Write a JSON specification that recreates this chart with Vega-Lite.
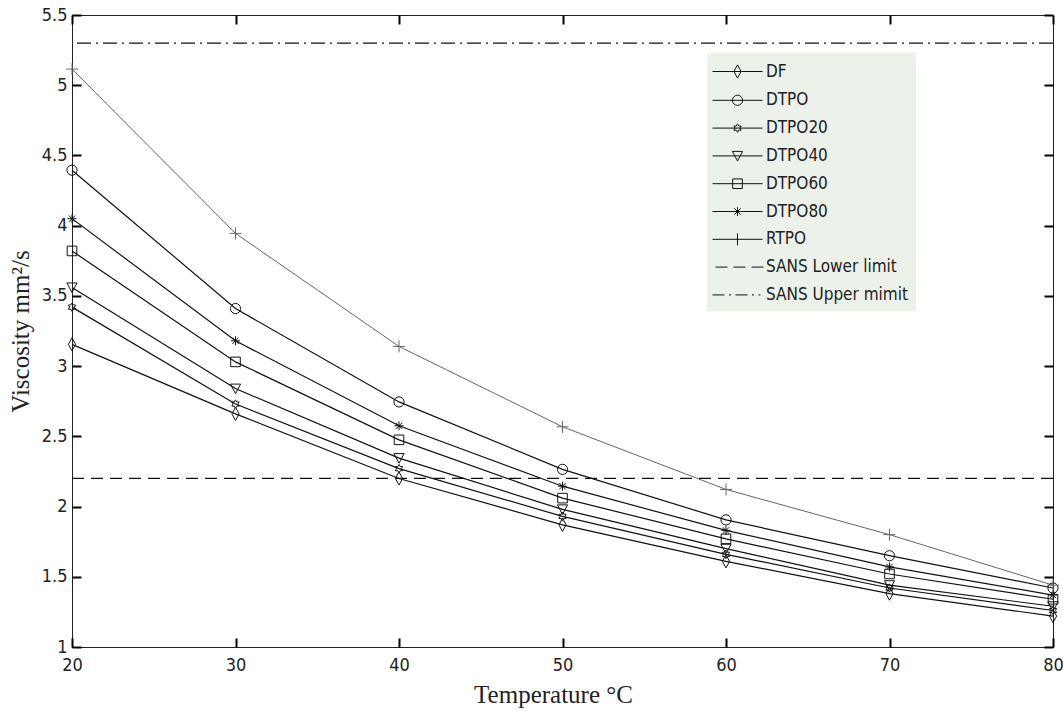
{
  "$schema": "https://vega.github.io/schema/vega-lite/v6.json",
  "width": 981,
  "height": 632,
  "autosize": "none",
  "padding": {"left": 72, "top": 15, "right": 10, "bottom": 67},
  "background": "white",
  "config": {
    "view": {"stroke": "#222", "strokeWidth": 1},
    "axis": {
      "domain": false,
      "grid": false,
      "ticks": true,
      "zindex": 1,
      "tickColor": "#000",
      "tickWidth": 2,
      "tickSize": 9,
      "offset": -9,
      "labelFlush": false,
      "labelFont": "Liberation Sans Narrow, DejaVu Sans Condensed, Liberation Sans",
      "labelFontSize": 18,
      "labelColor": "#222",
      "titleFont": "Liberation Serif",
      "titleFontSize": 25,
      "titleFontWeight": "normal",
      "titleColor": "#222"
    }
  },
  "datasets": {
    "series": [
      {"series": "DF", "temp": 20, "visc": 3.155},
      {"series": "DF", "temp": 30, "visc": 2.66},
      {"series": "DF", "temp": 40, "visc": 2.2},
      {"series": "DF", "temp": 50, "visc": 1.87},
      {"series": "DF", "temp": 60, "visc": 1.61},
      {"series": "DF", "temp": 70, "visc": 1.38},
      {"series": "DF", "temp": 80, "visc": 1.22},
      {"series": "DTPO", "temp": 20, "visc": 4.395},
      {"series": "DTPO", "temp": 30, "visc": 3.41},
      {"series": "DTPO", "temp": 40, "visc": 2.745},
      {"series": "DTPO", "temp": 50, "visc": 2.265},
      {"series": "DTPO", "temp": 60, "visc": 1.905},
      {"series": "DTPO", "temp": 70, "visc": 1.65},
      {"series": "DTPO", "temp": 80, "visc": 1.42},
      {"series": "DTPO20", "temp": 20, "visc": 3.42},
      {"series": "DTPO20", "temp": 30, "visc": 2.73},
      {"series": "DTPO20", "temp": 40, "visc": 2.27},
      {"series": "DTPO20", "temp": 50, "visc": 1.93},
      {"series": "DTPO20", "temp": 60, "visc": 1.66},
      {"series": "DTPO20", "temp": 70, "visc": 1.42},
      {"series": "DTPO20", "temp": 80, "visc": 1.26},
      {"series": "DTPO40", "temp": 20, "visc": 3.56},
      {"series": "DTPO40", "temp": 30, "visc": 2.84},
      {"series": "DTPO40", "temp": 40, "visc": 2.345},
      {"series": "DTPO40", "temp": 50, "visc": 1.98},
      {"series": "DTPO40", "temp": 60, "visc": 1.7},
      {"series": "DTPO40", "temp": 70, "visc": 1.44},
      {"series": "DTPO40", "temp": 80, "visc": 1.29},
      {"series": "DTPO60", "temp": 20, "visc": 3.82},
      {"series": "DTPO60", "temp": 30, "visc": 3.03},
      {"series": "DTPO60", "temp": 40, "visc": 2.475},
      {"series": "DTPO60", "temp": 50, "visc": 2.06},
      {"series": "DTPO60", "temp": 60, "visc": 1.77},
      {"series": "DTPO60", "temp": 70, "visc": 1.52},
      {"series": "DTPO60", "temp": 80, "visc": 1.34},
      {"series": "DTPO80", "temp": 20, "visc": 4.05},
      {"series": "DTPO80", "temp": 30, "visc": 3.18},
      {"series": "DTPO80", "temp": 40, "visc": 2.575},
      {"series": "DTPO80", "temp": 50, "visc": 2.145},
      {"series": "DTPO80", "temp": 60, "visc": 1.83},
      {"series": "DTPO80", "temp": 70, "visc": 1.57},
      {"series": "DTPO80", "temp": 80, "visc": 1.37},
      {"series": "RTPO", "temp": 20, "visc": 5.115},
      {"series": "RTPO", "temp": 30, "visc": 3.945},
      {"series": "RTPO", "temp": 40, "visc": 3.14},
      {"series": "RTPO", "temp": 50, "visc": 2.568},
      {"series": "RTPO", "temp": 60, "visc": 2.122},
      {"series": "RTPO", "temp": 70, "visc": 1.8},
      {"series": "RTPO", "temp": 80, "visc": 1.44}
    ],
    "limits": [
      {"limit": "SANS Lower limit", "visc": 2.2},
      {"limit": "SANS Upper mimit", "visc": 5.3}
    ],
    "legend": [
      {"entry": "DF", "temp": 50, "visc": 3},
      {"entry": "DTPO", "temp": 50, "visc": 3},
      {"entry": "DTPO20", "temp": 50, "visc": 3},
      {"entry": "DTPO40", "temp": 50, "visc": 3},
      {"entry": "DTPO60", "temp": 50, "visc": 3},
      {"entry": "DTPO80", "temp": 50, "visc": 3},
      {"entry": "RTPO", "temp": 50, "visc": 3},
      {"entry": "SANS Lower limit", "temp": 50, "visc": 3},
      {"entry": "SANS Upper mimit", "temp": 50, "visc": 3}
    ]
  },
  "resolve": {"axis": {"x": "independent", "y": "independent"}, "scale": {"shape": "independent"}},
  "layer": [
    {
      "data": {"name": "series"},
      "transform": [{"filter": "datum.series !== 'RTPO'"}],
      "mark": {"type": "line", "color": "#111", "strokeWidth": 1.2},
      "encoding": {
        "x": {"field": "temp", "type": "quantitative", "scale": {"domain": [20, 80], "nice": false, "zero": false},
              "axis": {"orient": "bottom", "values": [20, 30, 40, 50, 60, 70, 80], "labelPadding": 9, "title": "Temperature °C", "titlePadding": 8, "titleX": 481, "ticks": true, "tickColor": "#000", "tickWidth": 2}},
        "y": {"field": "visc", "type": "quantitative", "scale": {"domain": [1, 5.5], "nice": false, "zero": false},
              "axis": {"orient": "left", "values": [1, 1.5, 2, 2.5, 3, 3.5, 4, 4.5, 5, 5.5], "format": ".1~f", "labelPadding": 5, "title": "Viscosity mm²/s", "titlePadding": 8, "ticks": true, "tickColor": "#000", "tickWidth": 2}},
        "detail": {"field": "series"}
      }
    },
    {
      "data": {"name": "series"},
      "transform": [{"filter": "datum.series === 'RTPO'"}],
      "mark": {"type": "line", "color": "#666", "strokeWidth": 1},
      "encoding": {
        "x": {"field": "temp", "type": "quantitative", "scale": {"domain": [20, 80], "nice": false, "zero": false}, "axis": null},
        "y": {"field": "visc", "type": "quantitative", "scale": {"domain": [1, 5.5], "nice": false, "zero": false}, "axis": null}
      }
    },
    {
      "data": {"name": "limits"},
      "mark": {"type": "rule", "color": "#111", "strokeWidth": 1.3},
      "encoding": {
        "y": {"field": "visc", "type": "quantitative", "scale": {"domain": [1, 5.5], "nice": false, "zero": false}, "axis": null},
        "strokeDash": {"field": "limit", "type": "nominal", "scale": {"domain": ["SANS Lower limit", "SANS Upper mimit"], "range": [[12, 7], [14, 5, 2, 5]]}, "legend": null}
      }
    },
    {
      "data": {"name": "series"},
      "mark": {"type": "point", "filled": false, "strokeWidth": 1, "size": 144, "opacity": 1},
      "encoding": {
        "x": {"field": "temp", "type": "quantitative", "scale": {"domain": [20, 80], "nice": false, "zero": false},
              "axis": {"orient": "top", "values": [20, 30, 40, 50, 60, 70, 80], "labels": false, "title": null, "ticks": true, "tickColor": "#000", "tickWidth": 2}},
        "y": {"field": "visc", "type": "quantitative", "scale": {"domain": [1, 5.5], "nice": false, "zero": false},
              "axis": {"orient": "right", "values": [1, 1.5, 2, 2.5, 3, 3.5, 4, 4.5, 5, 5.5], "labels": false, "title": null, "ticks": true, "tickColor": "#000", "tickWidth": 2}},
        "color": {"condition": {"test": "datum.series === 'RTPO'", "value": "#666"}, "value": "#111"},
        "shape": {
          "field": "series", "type": "nominal", "legend": null,
          "scale": {
            "domain": ["DF", "DTPO", "DTPO20", "DTPO40", "DTPO60", "DTPO80", "RTPO"],
            "range": [
              "M0,-1.1L0.6,0L0,1.1L-0.6,0Z",
              "M0.85,0A0.85,0.85,0,1,1,-0.85,0A0.85,0.85,0,1,1,0.85,0Z",
              "M0,-0.7L0.202,-0.35L0.606,-0.35L0.404,0L0.606,0.35L0.202,0.35L0,0.7L-0.202,0.35L-0.606,0.35L-0.404,0L-0.606,-0.35L-0.202,-0.35Z",
              "M-0.85,-0.75L0.85,-0.75L0,0.85Z",
              "M-0.8,-0.8L0.8,-0.8L0.8,0.8L-0.8,0.8Z",
              "M-0.75,0L0.75,0M0,-0.75L0,0.75M-0.53,-0.53L0.53,0.53M-0.53,0.53L0.53,-0.53",
              "M-1,0L1,0M0,-1L0,1"
            ]
          }
        }
      }
    },
    {
      "data": {"name": "legend"},
      "mark": {"type": "point", "filled": false, "opacity": 0, "color": "#111"},
      "encoding": {
        "x": {"field": "temp", "type": "quantitative", "scale": {"domain": [20, 80], "nice": false, "zero": false}, "axis": null},
        "y": {"field": "visc", "type": "quantitative", "scale": {"domain": [1, 5.5], "nice": false, "zero": false}, "axis": null},
        "shape": {
          "field": "entry", "type": "nominal",
          "scale": {
            "domain": ["DF", "DTPO", "DTPO20", "DTPO40", "DTPO60", "DTPO80", "RTPO", "SANS Lower limit", "SANS Upper mimit"],
            "range": [
              "M-1.3,0L3.7,0M1.2,-0.66L1.56,0L1.2,0.66L0.84,0Z",
              "M-1.3,0L3.7,0M1.71,0A0.51,0.51,0,1,1,0.69,0A0.51,0.51,0,1,1,1.71,0Z",
              "M-1.3,0L3.7,0M1.2,-0.42L1.321,-0.21L1.564,-0.21L1.442,0L1.564,0.21L1.321,0.21L1.2,0.42L1.079,0.21L0.836,0.21L0.958,0L0.836,-0.21L1.079,-0.21Z",
              "M-1.3,0L3.7,0M0.69,-0.45L1.71,-0.45L1.2,0.51Z",
              "M-1.3,0L3.7,0M0.72,-0.48L1.68,-0.48L1.68,0.48L0.72,0.48Z",
              "M-1.3,0L3.7,0M1.2,-0.45L1.2,0.45M0.882,-0.318L1.518,0.318M0.882,0.318L1.518,-0.318",
              "M-1.3,0L3.7,0M1.2,-0.6L1.2,0.6",
              "M-1,0L0.2,0M0.8,0L2,0M2.6,0L3.8,0",
              "M-1.3,0L-0.1,0M0.35,0L0.55,0M1,0L2.2,0M2.65,0L2.85,0M3.3,0L3.5,0"
            ]
          },
          "legend": {
            "orient": "none",
            "legendX": 635,
            "legendY": 38,
            "title": null,
            "fillColor": "#ecf2ea",
            "padding": 8,
            "rowPadding": 8.8,
            "symbolSize": 400,
            "symbolStrokeColor": "#111",
            "symbolFillColor": "transparent",
            "symbolStrokeWidth": 1,
            "symbolOpacity": 1,
            "labelFont": "Liberation Sans Narrow, DejaVu Sans Condensed, Liberation Sans",
            "labelFontSize": 17,
            "labelColor": "#222",
            "labelOffset": 30,
            "labelLimit": 400
          }
        }
      }
    }
  ]
}
